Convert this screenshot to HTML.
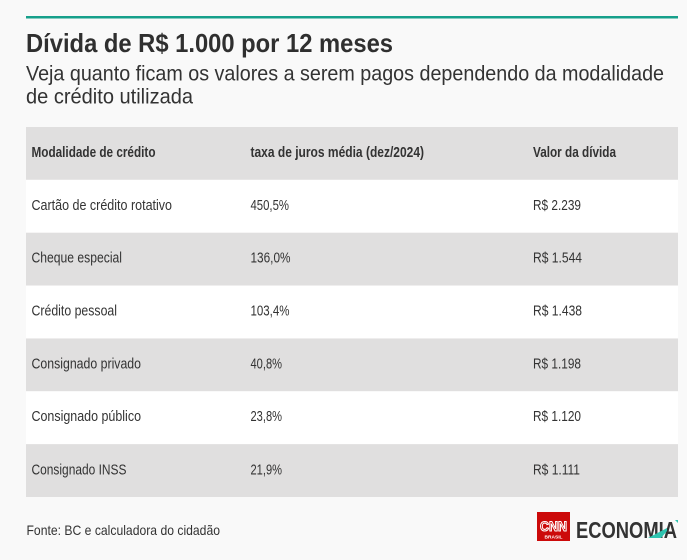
<!DOCTYPE html>
<html><head><meta charset="utf-8"><style>
html,body{margin:0;padding:0;background:#f9f9f9;}
svg{display:block;}
text{font-family:"Liberation Sans",sans-serif;}
</style></head><body>
<svg width="687" height="560" viewBox="0 0 687 560" xmlns="http://www.w3.org/2000/svg">
<rect x="0" y="0" width="687" height="560" fill="#f9f9f9"/>
<rect x="26" y="16" width="652" height="2.5" fill="#17a08b"/>
<text x="26" y="52" font-size="26" font-weight="bold" fill="#2f2f2f" textLength="367" lengthAdjust="spacingAndGlyphs">Dívida de R$ 1.000 por 12 meses</text>
<text x="26" y="80.5" font-size="21" fill="#333" textLength="638" lengthAdjust="spacingAndGlyphs">Veja quanto ficam os valores a serem pagos dependendo da modalidade</text>
<text x="26" y="103.3" font-size="21" fill="#333" textLength="167" lengthAdjust="spacingAndGlyphs">de crédito utilizada</text>

<rect x="26" y="127" width="652" height="52.86" fill="#e0dfdf"/>
<rect x="26" y="179.86" width="652" height="52.86" fill="#ffffff"/>
<rect x="26" y="232.71" width="652" height="52.86" fill="#e0dfdf"/>
<rect x="26" y="285.57" width="652" height="52.86" fill="#ffffff"/>
<rect x="26" y="338.43" width="652" height="52.86" fill="#e0dfdf"/>
<rect x="26" y="391.29" width="652" height="52.86" fill="#ffffff"/>
<rect x="26" y="444.14" width="652" height="52.86" fill="#e0dfdf"/>

<g font-size="14.5" font-weight="bold" fill="#333">
<text x="31.5" y="157" textLength="124" lengthAdjust="spacingAndGlyphs">Modalidade de crédito</text>
<text x="250.5" y="157" textLength="173.5" lengthAdjust="spacingAndGlyphs">taxa de juros média (dez/2024)</text>
<text x="533" y="157" textLength="83" lengthAdjust="spacingAndGlyphs">Valor da dívida</text>
</g>

<g font-size="14.5" fill="#333">
<text x="31.5" y="209.8" textLength="140.5" lengthAdjust="spacingAndGlyphs">Cartão de crédito rotativo</text>
<text x="250.5" y="209.8" textLength="38.5" lengthAdjust="spacingAndGlyphs">450,5%</text>
<text x="533" y="209.8" textLength="48" lengthAdjust="spacingAndGlyphs">R$ 2.239</text>

<text x="31.5" y="262.6" textLength="90.5" lengthAdjust="spacingAndGlyphs">Cheque especial</text>
<text x="250.5" y="262.6" textLength="40" lengthAdjust="spacingAndGlyphs">136,0%</text>
<text x="533" y="262.6" textLength="49" lengthAdjust="spacingAndGlyphs">R$ 1.544</text>

<text x="31.5" y="315.5" textLength="85.5" lengthAdjust="spacingAndGlyphs">Crédito pessoal</text>
<text x="250.5" y="315.5" textLength="39" lengthAdjust="spacingAndGlyphs">103,4%</text>
<text x="533" y="315.5" textLength="49" lengthAdjust="spacingAndGlyphs">R$ 1.438</text>

<text x="31.5" y="368.4" textLength="109.5" lengthAdjust="spacingAndGlyphs">Consignado privado</text>
<text x="250.5" y="368.4" textLength="31.5" lengthAdjust="spacingAndGlyphs">40,8%</text>
<text x="533" y="368.4" textLength="48" lengthAdjust="spacingAndGlyphs">R$ 1.198</text>

<text x="31.5" y="421.2" textLength="109.5" lengthAdjust="spacingAndGlyphs">Consignado público</text>
<text x="250.5" y="421.2" textLength="31.5" lengthAdjust="spacingAndGlyphs">23,8%</text>
<text x="533" y="421.2" textLength="48" lengthAdjust="spacingAndGlyphs">R$ 1.120</text>

<text x="31.5" y="474.5" textLength="95" lengthAdjust="spacingAndGlyphs">Consignado INSS</text>
<text x="250.5" y="474.5" textLength="31.5" lengthAdjust="spacingAndGlyphs">21,9%</text>
<text x="533" y="474.5" textLength="47" lengthAdjust="spacingAndGlyphs">R$ 1.111</text>
</g>

<text x="26.5" y="535" font-size="14" fill="#333" textLength="193.5" lengthAdjust="spacingAndGlyphs">Fonte: BC e calculadora do cidadão</text>

<!-- logo -->
<rect x="537" y="512" width="33" height="29" fill="#cc0a0a"/>
<text x="540" y="531" font-size="14" font-weight="bold" fill="#cc0a0a" stroke="#ffffff" stroke-width="1.1" textLength="27" lengthAdjust="spacingAndGlyphs">CNN</text>
<text x="544.5" y="538.5" font-size="4.5" font-weight="bold" fill="#ffffff" textLength="18" lengthAdjust="spacingAndGlyphs">BRASIL</text>
<text x="576" y="538" font-size="23.5" font-weight="bold" fill="#333" textLength="101" lengthAdjust="spacingAndGlyphs">ECONOMIA</text>
<polygon points="648,538 661,538 667,531 667,528" fill="#2ec4b0"/>
<polygon points="675,520 678,520 678,523" fill="#2ec4b0"/>
</svg>
</body></html>
